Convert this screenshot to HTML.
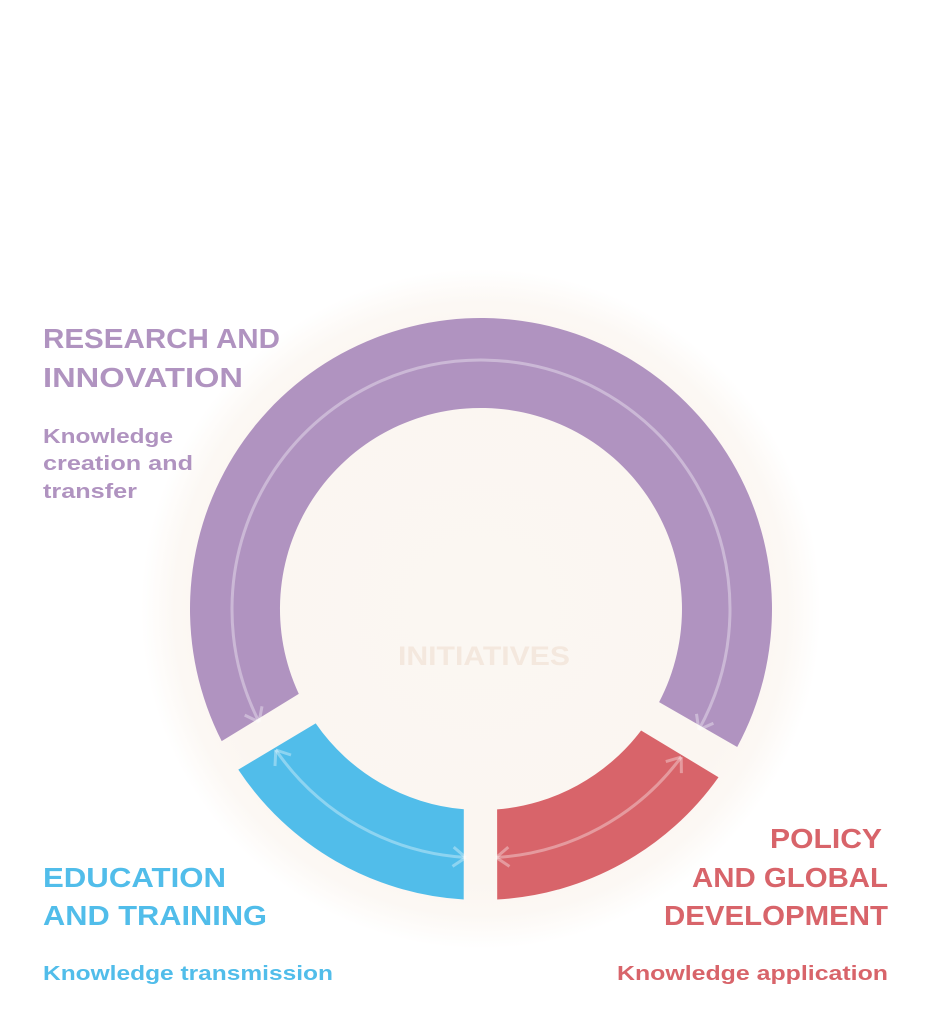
<!DOCTYPE html>
<html><head><meta charset="utf-8"><style>
html,body{margin:0;padding:0;background:#fff;}
svg{display:block;}
text{font-family:"Liberation Sans",sans-serif;font-weight:bold;}
</style></head><body>
<svg id="chart" width="934" height="1024" viewBox="0 0 934 1024" xmlns="http://www.w3.org/2000/svg">
<defs>
<radialGradient id="glow" cx="481" cy="609" r="340" gradientUnits="userSpaceOnUse">
<stop offset="0" stop-color="#FBF7F2"/>
<stop offset="0.8" stop-color="#FBF6F1"/>
<stop offset="0.9" stop-color="#FCF8F4"/>
<stop offset="1" stop-color="#FFFFFF"/>
</radialGradient>
</defs>
<circle cx="481" cy="609" r="340" fill="url(#glow)"/>
<g id="segs"></g>
<text x="484" y="665" text-anchor="middle" font-size="27" fill="#F4E8DE" textLength="172" lengthAdjust="spacingAndGlyphs">INITIATIVES</text>

<g fill="#B093C0">
<text x="43" y="348" font-size="28" textLength="237" lengthAdjust="spacingAndGlyphs">RESEARCH AND</text>
<text x="43" y="387" font-size="28" textLength="200" lengthAdjust="spacingAndGlyphs">INNOVATION</text>
<text x="43" y="443" font-size="20" textLength="130" lengthAdjust="spacingAndGlyphs">Knowledge</text>
<text x="43" y="470" font-size="20" textLength="150" lengthAdjust="spacingAndGlyphs">creation and</text>
<text x="43" y="498" font-size="20" textLength="94" lengthAdjust="spacingAndGlyphs">transfer</text>
</g>
<g fill="#51BDEA">
<text x="43" y="887" font-size="28" textLength="183" lengthAdjust="spacingAndGlyphs">EDUCATION</text>
<text x="43" y="925" font-size="28" textLength="224" lengthAdjust="spacingAndGlyphs">AND TRAINING</text>
<text x="43" y="980" font-size="20" textLength="290" lengthAdjust="spacingAndGlyphs">Knowledge transmission</text>
</g>
<g fill="#D8646A">
<text x="770" y="848" font-size="28" textLength="112" lengthAdjust="spacingAndGlyphs">POLICY</text>
<text x="692" y="887" font-size="28" textLength="196" lengthAdjust="spacingAndGlyphs">AND GLOBAL</text>
<text x="664" y="925" font-size="28" textLength="224" lengthAdjust="spacingAndGlyphs">DEVELOPMENT</text>
<text x="617" y="980" font-size="20" textLength="271" lengthAdjust="spacingAndGlyphs">Knowledge application</text>
</g>
</svg>
<script>
const segNames = ['research-segment','education-segment','policy-segment'];
const segColors = ['#B093C0','#51BDEA','#D8646A'];
// angles in degrees (svg, clockwise from +x): [outerStart, innerStart, outerEnd, innerEnd]; sweep from start to end going counter-clockwise for research
const segStart = [153.0, 146.5, 86.8];
const segStartIn = [155.0, 145.3, 85.4];
const segEnd = [388.3, 93.4, 35.3];
const segEndIn = [387.6, 94.9, 37.2];
const arrowStart = [153, 145.5, 86.5];
const arrowEnd = [389, 93.5, 36.5];
const arrowBoth = [false, true, true];

const CX=481, CY=609, RO=291, RI=201, RA=249;
const NS='http://www.w3.org/2000/svg';
const g=document.getElementById('segs');
function pt(a,r){const t=a*Math.PI/180;return [CX+r*Math.cos(t),CY+r*Math.sin(t)];}
function arcPath(a0,a1,r){
  // from a0 to a1 along shortest representation given ordering
  const p0=pt(a0,r),p1=pt(a1,r);
  const d=a1-a0; const large=Math.abs(d)>180?1:0; const sweep=d>0?1:0;
  return {p0,p1,cmd:`A${r} ${r} 0 ${large} ${sweep} ${p1[0].toFixed(1)} ${p1[1].toFixed(1)}`};
}
for(let i=0;i<segNames.length;i++){
  let s=segStart[i], e=segEnd[i], si=segStartIn[i], ei=segEndIn[i];
  const o=arcPath(s,e,RO);
  const inn=arcPath(ei,si,RI);
  const d=`M${o.p0[0].toFixed(1)} ${o.p0[1].toFixed(1)} ${o.cmd} L${inn.p0[0].toFixed(1)} ${inn.p0[1].toFixed(1)} ${inn.cmd} Z`;
  const p=document.createElementNS(NS,'path');
  p.setAttribute('d',d);p.setAttribute('fill',segColors[i]);
  
  
  g.appendChild(p);
  // arrow line
  const a=arcPath(arrowStart[i],arrowEnd[i],RA);
  const l=document.createElementNS(NS,'path');
  l.setAttribute('d',`M${a.p0[0].toFixed(1)} ${a.p0[1].toFixed(1)} ${a.cmd}`);
  l.setAttribute('fill','none');l.setAttribute('stroke','rgba(255,255,255,0.35)');l.setAttribute('stroke-width','3');
  
  
  g.appendChild(l);
  const dir=Math.sign(arrowEnd[i]-arrowStart[i]);
  const heads=[[arrowEnd[i],dir]];
  heads.push([arrowStart[i],-dir]);
  heads.forEach(([ang,dd])=>{
    const tip=pt(ang,RA);
    const t=ang*Math.PI/180;
    // tangent direction of travel
    const tx=-Math.sin(t)*dd, ty=Math.cos(t)*dd;
    const back=Math.atan2(-ty,-tx);
    let dstr='';
    [-0.65,0.65].forEach(off=>{
      const x=tip[0]+16*Math.cos(back+off), y=tip[1]+16*Math.sin(back+off);
      dstr+=`M${x.toFixed(1)} ${y.toFixed(1)} L${tip[0].toFixed(1)} ${tip[1].toFixed(1)} `;
    });
    const h=document.createElementNS(NS,'path');
    h.setAttribute('d',dstr);h.setAttribute('fill','none');h.setAttribute('stroke','rgba(255,255,255,0.35)');h.setAttribute('stroke-width','3');
    
    
    g.appendChild(h);
  });
}
</script>
</body></html>
